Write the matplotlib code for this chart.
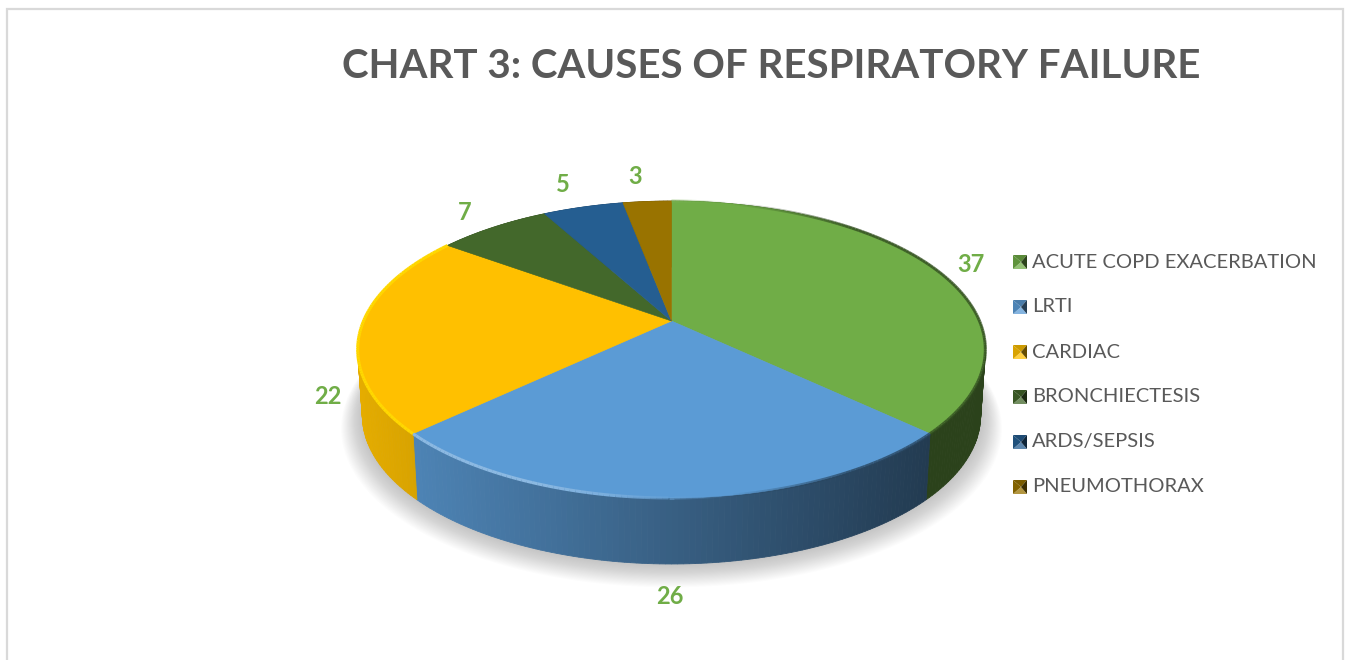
import numpy as np
import matplotlib
matplotlib.use('agg')
import matplotlib.pyplot as plt
from matplotlib.colors import to_rgb

title='CHART 3: CAUSES OF RESPIRATORY FAILURE'
causes=['ACUTE COPD EXACERBATION','LRTI','CARDIAC','BRONCHIECTESIS','ARDS/SEPSIS','PNEUMOTHORAX']
values=[37,26,22,7,5,3]
colors=['#70AD47','#5B9BD5','#FFC000','#43682B','#255E91','#997300']
label_xy=[(971,264),(670,597),(328,397),(465,213),(563,184),(635,177)]

W,H=1347,660
cx,cy=671.5,321
Rx,Ry,k=308,143,0.192
depth=66

def proj(pct):
	# percent round the pie, clockwise from 12 o'clock, perspective disc
	a=np.radians(np.asarray(pct)*3.6)
	u,v=np.sin(a),np.cos(a)
	w=1+k*v
	return cx+Rx*u/w, cy-Ry*v/w

def under(x,y):
	return cx+(x-cx)*0.985, y+depth

def shade(x):
	t=np.clip((x-355)/(930-355),0,1)
	return 0.9-0.52*t

def mix(c,f):
	c=np.array(to_rgb(c))
	if f<=1:
		return tuple(c*f)
	return tuple(c+(1-c)*(f-1))

fig=plt.figure(figsize=(W/100,H/100),dpi=100)
ax=fig.add_axes([0,0,1,1])
ax.set_xlim(0,W)
ax.set_ylim(H,0)
ax.axis('off')

# frame, no bottom edge in the crop
ax.plot([7,7,1343,1343],[H,8.5,8.5,H],color='#D9D9D9',lw=1.6,solid_joinstyle='miter')

# soft shadow under the pie
px,py=proj(np.linspace(0,100,241))
bx,by=under(px,py)
for g in np.linspace(22,0,23):
	sx=cx+(bx-cx)*(1+g/320)
	sy=by+g*0.55+(by-by.mean())*g/320
	ax.fill(sx,sy,color='#808080',alpha=0.022,lw=0,zorder=1)

# side walls
start=0
bounds=[]
for v,c in zip(values,colors):
	end=start+v
	t=np.linspace(start,end,max(int(v*4),3)+1)
	x,y=proj(t)
	x2,y2=under(x,y)
	for i in range(len(t)-1):
		f=shade((x[i]+x[i+1])/2)
		ax.fill([x[i],x[i+1],x2[i+1],x2[i]],[y[i],y[i+1],y2[i+1],y2[i]],color=mix(c,f),lw=0.6,zorder=2)
	bounds.append((start,end,c))
	start=end

# top face
for s,e,c in bounds:
	x,y=proj(np.linspace(s,e,int((e-s)*4)+2))
	ax.fill(np.r_[cx,x],np.r_[cy,y],color=c,lw=0.4,zorder=3)

# bevel along the rim: light on the left, dark on the right
for s,e,c in bounds:
	t=np.linspace(s,e,int((e-s)*4)+2)
	x,y=proj(t)
	for i in range(len(t)-1):
		xm=(x[i]+x[i+1])/2
		if (s+e)/2>85 :
			continue
		if xm<cx+60:
			f=1+0.3*np.clip((cx+60-xm)/200,0,1)
			col=mix(c,f)
			if c=='#FFC000':
				col='#FFD800'
			al=np.clip((cx+60-xm)/120,0,1)
		else:
			col=mix(c,0.45)
			al=np.clip((xm-cx-60)/120,0,1)*0.8
		ax.plot(x[i:i+2],y[i:i+2],color=col,lw=2.2,alpha=al,solid_capstyle='butt',zorder=4)

# value labels
for v,(lx,ly) in zip(values,label_xy):
	ax.text(lx,ly,str(v),color='#70AD47',fontsize=17,fontweight='bold',family='Lato',ha='center',va='center',zorder=6)

ax.text(771,67,title,color='#595959',fontsize=29,fontweight='bold',family='Lato',ha='center',va='center')

# legend with bevelled keys
for i,(name,c) in enumerate(zip(causes,colors)):
	yc=262+i*45
	x0,x1,y0,y1=1013,1027,yc-7,yc+7
	xm,ym=(x0+x1)/2+1,yc
	ax.fill([x0,x1,xm],[y0,y0,ym],color=mix(c,0.8),lw=0)
	ax.fill([x0,x1,xm],[y1,y1,ym],color=mix(c,1.25),lw=0)
	ax.fill([x0,x0,xm],[y0,y1,ym],color=mix(c,0.85),lw=0)
	ax.fill([x1,x1,xm],[y0,y1,ym],color=mix(c,0.4),lw=0)
	ax.text(1032,yc,name,color='#595959',fontsize=14.5,family='Lato',ha='left',va='center')

fig.savefig('out.png',dpi=100)
